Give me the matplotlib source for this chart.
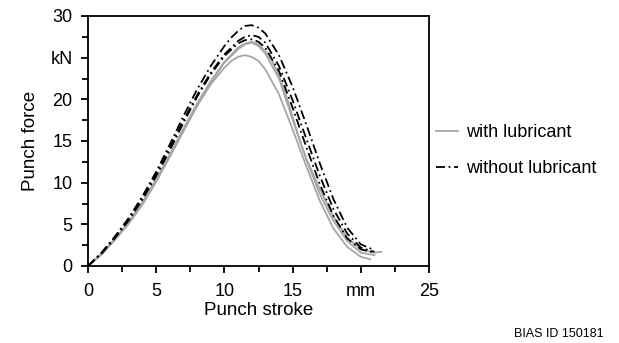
import matplotlib
matplotlib.use("Agg")
import matplotlib.pyplot as plt
from matplotlib.ticker import MultipleLocator, FixedLocator

plt.rcParams["font.family"] = ["Liberation Sans", "DejaVu Sans"]

# --- datos (recorrido en mm, fuerza en kN) ---
gris_a_x = [0, 1, 2, 3, 4, 5, 6, 7, 8, 9, 10, 11, 11.5, 12, 12.5, 13, 13.5, 14, 14.5, 15, 15.5, 16, 17, 18, 19, 20, 21, 21.5]
gris_a_y = [0, 1.5, 3.3, 5.3, 7.7, 10.4, 13.4, 16.5, 19.5, 22.2, 24.5, 26.2, 26.7, 26.9, 26.6, 25.8, 24.6, 22.8, 20.6, 17.9, 15.2, 12.9, 9.2, 5.9, 3.4, 2.0, 1.6, 1.7]

gris_b_x = [0, 1, 2, 3, 4, 5, 6, 7, 8, 9, 10, 10.5, 11, 11.5, 12, 12.5, 13, 14, 15, 16, 17, 18, 19, 20, 20.7]
gris_b_y = [0, 1.4, 3.2, 5.2, 7.5, 10.2, 13.2, 16.2, 19.2, 21.8, 23.8, 24.6, 25.1, 25.3, 25.1, 24.6, 23.6, 20.6, 16.4, 12.0, 7.8, 4.5, 2.3, 1.1, 0.8]

gris_c_x = [0, 1, 2, 3, 4, 5, 6, 7, 8, 9, 10, 11, 11.5, 12, 12.5, 13, 14, 15, 16, 17, 18, 19, 20, 21]
gris_c_y = [0, 1.4, 3.2, 5.1, 7.4, 10.1, 13.1, 16.2, 19.3, 22.0, 24.4, 26.0, 26.6, 26.8, 26.4, 25.5, 22.5, 17.6, 12.8, 8.6, 5.4, 3.0, 1.6, 1.3]

negro_d_x = [0, 1, 2, 3, 4, 5, 6, 7, 8, 9, 10, 10.5, 11, 11.5, 12, 12.5, 13, 14, 15, 16, 17, 18, 19, 20, 21]
negro_d_y = [0, 1.6, 3.6, 5.8, 8.4, 11.3, 14.6, 18.0, 21.2, 24.0, 26.4, 27.4, 28.2, 28.8, 28.9, 28.6, 27.9, 25.3, 21.5, 17.0, 12.3, 8.0, 4.6, 2.6, 1.9]

negro_e_x = [0, 1, 2, 3, 4, 5, 6, 7, 8, 9, 10, 11, 11.5, 12, 12.5, 13, 14, 15, 16, 17, 18, 19, 20, 21]
negro_e_y = [0, 1.6, 3.5, 5.7, 8.2, 11.0, 14.2, 17.5, 20.5, 23.2, 25.4, 27.0, 27.5, 27.7, 27.5, 26.8, 24.0, 19.9, 15.3, 10.8, 6.8, 3.9, 2.2, 1.7]

negro_f_x = [0, 1, 2, 3, 4, 5, 6, 7, 8, 9, 10, 11, 11.5, 12, 12.5, 13, 14, 15, 16, 17, 18, 19, 20, 21]
negro_f_y = [0, 1.5, 3.4, 5.5, 8.0, 10.8, 13.9, 17.2, 20.3, 23.0, 25.2, 26.7, 27.1, 27.2, 26.9, 26.2, 23.4, 19.0, 14.3, 9.8, 6.0, 3.3, 2.0, 1.6]

gris = [(gris_a_x, gris_a_y), (gris_b_x, gris_b_y), (gris_c_x, gris_c_y)]
negros = [(negro_d_x, negro_d_y), (negro_e_x, negro_e_y), (negro_f_x, negro_f_y)]

x_ticks = [0, 5, 10, 15, 20, 25]
x_labels = ["0", "5", "10", "15", "mm", "25"]
y_ticks = [0, 5, 10, 15, 20, 25, 30]
y_labels = ["0", "5", "10", "15", "20", "kN", "30"]

fig = plt.figure(figsize=(6.19, 3.43), dpi=100)
ax = fig.add_axes([88 / 619, 1 - 266 / 343, (429 - 88) / 619, (266 - 16) / 343])

estilo_dd = (0, (5, 2, 1, 2))
for i, (x, y) in enumerate(gris):
    ax.plot(x, y, color="#a6a6a6", linewidth=1.3,
            label="with lubricant" if i == 0 else None)
for i, (x, y) in enumerate(negros):
    ax.plot(x, y, color="black", linewidth=1.3, linestyle=estilo_dd,
            label="without lubricant" if i == 0 else None)

ax.set_xlim(0, 25)
ax.set_ylim(0, 30)
ax.xaxis.set_major_locator(FixedLocator(x_ticks))
ax.set_xticklabels(x_labels)
ax.yaxis.set_major_locator(FixedLocator(y_ticks))
ax.set_yticklabels(y_labels)
ax.xaxis.set_minor_locator(MultipleLocator(2.5))
ax.yaxis.set_minor_locator(MultipleLocator(2.5))
ax.tick_params(which="both", direction="out", width=1.3, labelsize=13)
ax.tick_params(axis="x", which="major", pad=7.5)
ax.tick_params(axis="y", which="major", pad=6)
ax.tick_params(which="major", length=5)
ax.tick_params(which="minor", length=4)
for s in ax.spines.values():
    s.set_linewidth(1.3)

ax.set_xlabel("Punch stroke", fontsize=13.5, labelpad=1.5)
ax.set_ylabel("Punch force", fontsize=13.5, labelpad=8)

ax.legend(loc="center left", bbox_to_anchor=(1.0, 0.462), frameon=False,
          fontsize=13, handlelength=1.2, handletextpad=0.45, labelspacing=1.05,
          borderaxespad=0.0)

fig.text(604 / 619, 1 - 334 / 343, "BIAS ID 150181", fontsize=9, ha="right", va="center")

fig.savefig("out.png", dpi=100)
